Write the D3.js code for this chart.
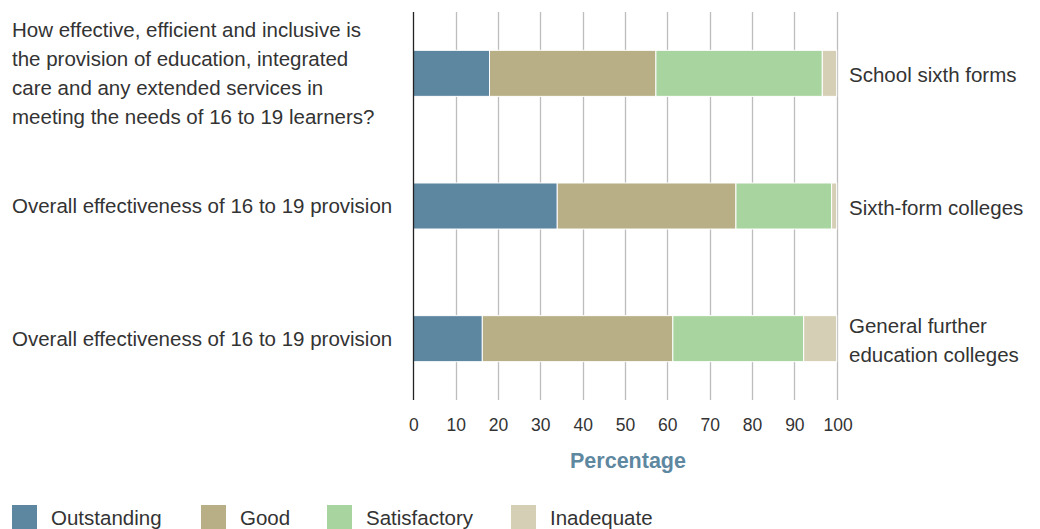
<!DOCTYPE html>
<html>
<head>
<meta charset="utf-8">
<script src="https://cdn.jsdelivr.net/npm/d3@7"></script>
<style>
  html, body { margin: 0; padding: 0; background: #fff; }
  svg { display: block; font-family: "Liberation Sans", Arial, sans-serif; }
</style>
</head>
<body>
<svg id="chart" width="1040" height="529"></svg>
<script>
const categories = ["School sixth forms", "Sixth-form colleges", "General further education colleges"];
const leftLabels = [
  ["How effective, efficient and inclusive is", "the provision of education, integrated", "care and any extended services in", "meeting the needs of 16 to 19 learners?"],
  ["Overall effectiveness of 16 to 19 provision"],
  ["Overall effectiveness of 16 to 19 provision"]
];
const rightLabels = [["School sixth forms"], ["Sixth-form colleges"], ["General further", "education colleges"]];
const seriesNames = ["Outstanding", "Good", "Satisfactory", "Inadequate"];
const outstanding = [18, 34, 16.3];
const good = [39.3, 42.2, 45];
const satisfactory = [39.3, 22.6, 30.9];
const inadequate = [3.4, 1.2, 7.8];
const xTicks = [0, 10, 20, 30, 40, 50, 60, 70, 80, 90, 100];
const colors = ["#5d87a1", "#b8af87", "#a8d59f", "#d5cfb5"];

const seriesValues = [outstanding, good, satisfactory, inadequate];
const table = categories.map((c, i) => {
  const row = { category: c };
  seriesNames.forEach((s, j) => row[s] = seriesValues[j][i]);
  return row;
});
const stacked = d3.stack().keys(seriesNames)(table);

const svg = d3.select("#chart");
const x = d3.scaleLinear().domain([0, 100]).range([413.3, 836.7]);
const y = d3.scaleBand().domain(categories).range([7, 405]).paddingInner(0.653).paddingOuter(0.3265);
const plotTop = 12, plotBottom = 400;
const labelSize = 20.5;

// gridlines
svg.append("g").selectAll("line").data(xTicks.filter(t => t > 0)).join("line")
  .attr("x1", d => Math.round(x(d)) + 0.5).attr("x2", d => Math.round(x(d)) + 0.5)
  .attr("y1", plotTop).attr("y2", plotBottom)
  .attr("stroke", "#bdbdbd").attr("stroke-width", 1.3);

// bars
svg.append("g").selectAll("g").data(stacked).join("g")
  .attr("fill", (d, i) => colors[i])
  .selectAll("rect").data(d => d).join("rect")
  .attr("x", d => x(d[0]))
  .attr("width", d => Math.max(0, x(d[1]) - x(d[0])))
  .attr("y", d => y(d.data.category))
  .attr("height", y.bandwidth())
  .attr("stroke", "#fff").attr("stroke-width", 1);

// axis line
svg.append("line")
  .attr("x1", Math.round(x(0)) + 0.5).attr("x2", Math.round(x(0)) + 0.5)
  .attr("y1", plotTop).attr("y2", plotBottom)
  .attr("stroke", "#222").attr("stroke-width", 1.3);

// x tick labels via axis
const axis = d3.axisBottom(x).tickValues(xTicks).tickSize(0).tickPadding(0).tickFormat(d3.format("d"));
const ag = svg.append("g").attr("transform", "translate(0,418.5)").call(axis);
ag.select(".domain").remove();
ag.selectAll("text").attr("font-size", 17.5).attr("fill", "#333")
  .attr("font-family", "'Liberation Sans', Arial, sans-serif").attr("dy", "0.71em").attr("y", 0)
  .attr("dx", d => d === 100 ? 1 : 0);

// axis title
svg.append("text").attr("x", x(50) + 3).attr("y", 468).attr("text-anchor", "middle")
  .attr("font-size", 21.5).attr("font-weight", "bold").attr("fill", "#5e87a0").text("Percentage");

const lineH = 29;
// left labels
categories.forEach((c, i) => {
  const cy = y(c) + y.bandwidth() / 2;
  const lines = leftLabels[i];
  const t = svg.append("text").attr("font-size", labelSize).attr("fill", "#333");
  lines.forEach((l, k) => {
    t.append("tspan").attr("x", 12)
      .attr("y", cy + (k - (lines.length - 1) / 2) * lineH)
      .attr("dy", "0.35em").text(l);
  });
  const r = svg.append("text").attr("font-size", labelSize).attr("fill", "#333");
  const rl = rightLabels[i];
  rl.forEach((l, k) => {
    r.append("tspan").attr("x", 849)
      .attr("y", cy + (k - (rl.length - 1) / 2) * lineH + 1.5)
      .attr("dy", "0.35em").text(l);
  });
});

// legend
const legendX = [12, 201, 327, 511];
const lg = svg.append("g");
seriesNames.forEach((s, i) => {
  lg.append("rect").attr("x", legendX[i]).attr("y", 505).attr("width", 25).attr("height", 25).attr("fill", colors[i]);
  lg.append("text").attr("x", legendX[i] + 39).attr("y", 518).attr("dy", "0.35em")
    .attr("font-size", labelSize).attr("fill", "#333").text(s);
});
</script>
</body>
</html>
